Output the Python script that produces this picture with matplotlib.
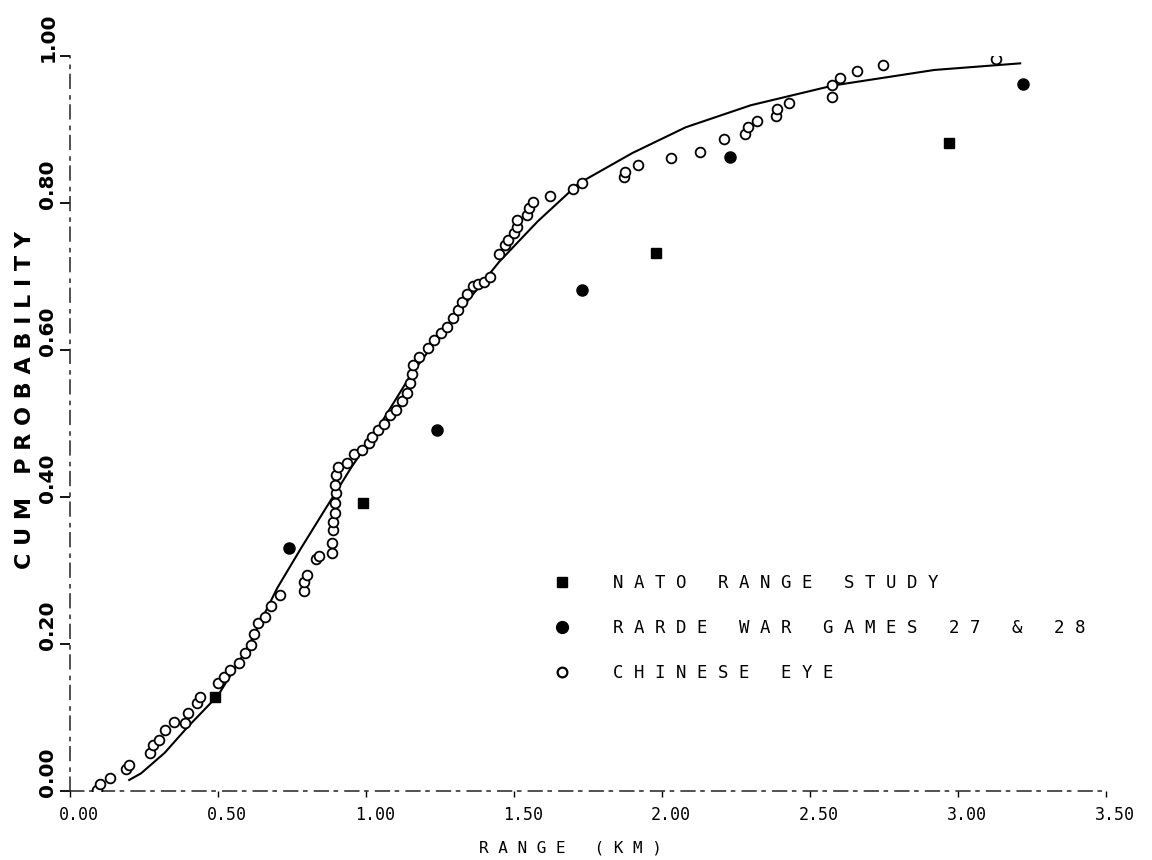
import matplotlib
matplotlib.use('Agg')
import matplotlib.pyplot as plt
from matplotlib.lines import Line2D

# NATO range study
nato_x = [0.49, 0.99, 1.98, 2.97]
nato_y = [0.128, 0.392, 0.732, 0.881]

# RARDE war games 27 & 28
rarde_x = [0.74, 1.24, 1.73, 2.23, 3.22]
rarde_y = [0.331, 0.491, 0.682, 0.863, 0.962]

# Chinese eye observations
eye_x = [0.09, 0.10, 0.135, 0.19, 0.20, 0.27, 0.28, 0.30, 0.32, 0.35,
         0.39, 0.40, 0.43, 0.44, 0.50, 0.52, 0.54, 0.57, 0.59, 0.61,
         0.62, 0.635, 0.66, 0.68, 0.71, 0.79, 0.79, 0.80, 0.83, 0.84,
         0.885, 0.885, 0.89, 0.89, 0.895, 0.895, 0.90, 0.895, 0.90, 0.905,
         0.935, 0.96, 0.985, 1.01, 1.02, 1.04, 1.06, 1.08, 1.10, 1.12,
         1.14, 1.15, 1.155, 1.16, 1.18, 1.21, 1.23, 1.255, 1.275, 1.295,
         1.31, 1.325, 1.34, 1.36, 1.38, 1.40, 1.42, 1.45, 1.47, 1.48,
         1.50, 1.51, 1.51, 1.545, 1.55, 1.565, 1.62, 1.70, 1.73, 1.87,
         1.875, 1.92, 2.03, 2.13, 2.21, 2.28, 2.29, 2.32, 2.385, 2.39,
         2.43, 2.575, 2.575, 2.60, 2.66, 2.745, 3.13]
eye_y = [0.001, 0.010, 0.018, 0.030, 0.036, 0.052, 0.062, 0.070, 0.083, 0.094,
         0.093, 0.106, 0.120, 0.128, 0.147, 0.155, 0.165, 0.174, 0.188, 0.199,
         0.214, 0.228, 0.237, 0.252, 0.266, 0.272, 0.284, 0.294, 0.315, 0.320,
         0.324, 0.337, 0.355, 0.366, 0.378, 0.392, 0.405, 0.416, 0.430, 0.441,
         0.446, 0.458, 0.464, 0.473, 0.482, 0.491, 0.500, 0.511, 0.518, 0.531,
         0.541, 0.555, 0.568, 0.580, 0.590, 0.603, 0.613, 0.623, 0.631, 0.643,
         0.654, 0.665, 0.676, 0.687, 0.690, 0.692, 0.700, 0.730, 0.743, 0.750,
         0.759, 0.767, 0.777, 0.784, 0.793, 0.801, 0.810, 0.819, 0.827, 0.835,
         0.842, 0.852, 0.861, 0.869, 0.887, 0.894, 0.903, 0.912, 0.918, 0.928,
         0.936, 0.944, 0.960, 0.970, 0.980, 0.988, 0.996]

# fitted cumulative curve
fit_x = [0.20, 0.24, 0.32, 0.395, 0.50, 0.60, 0.70, 0.78, 0.86, 0.95,
         1.05, 1.15, 1.25, 1.35, 1.45, 1.58, 1.72, 1.90, 2.08, 2.30,
         2.58, 2.92, 3.21]
fit_y = [0.015, 0.024, 0.052, 0.086, 0.130, 0.195, 0.276, 0.330, 0.382, 0.440,
         0.500, 0.565, 0.620, 0.670, 0.720, 0.775, 0.827, 0.868, 0.903, 0.933,
         0.960, 0.981, 0.990]

xticks = [0.0, 0.5, 1.0, 1.5, 2.0, 2.5, 3.0, 3.5]
xtick_labels = ['0.00', '0.50', '1.00', '1.50', '2.00', '2.50', '3.00', '3.50']
yticks = [0.0, 0.2, 0.4, 0.6, 0.8, 1.0]
ytick_labels = ['0.00', '0.20', '0.40', '0.60', '0.80', '1.00']

legend_labels = ['NATO RANGE STUDY', 'RARDE WAR GAMES 27 & 28', 'CHINESE EYE']


def spaced(s):
    # plotter style lettering: one blank between letters
    return ' '.join(s)


W, H = 1152, 860
fig = plt.figure(figsize=(W / 100, H / 100), dpi=100)
ax = fig.add_axes([70 / W, 69 / H, 1036 / W, 735 / H])
ax.set_xlim(0, 3.5)
ax.set_ylim(0, 1.0)

mono = 'DejaVu Sans Mono'

ax.plot(fit_x, fit_y, color='black', lw=1.5, zorder=2)
ax.plot(eye_x, eye_y, ls='none', marker='o', ms=7, mfc='white', mec='black',
        mew=1.3, zorder=3)
ax.plot(rarde_x, rarde_y, ls='none', marker='o', ms=8, color='black', zorder=4)
ax.plot(nato_x, nato_y, ls='none', marker='s', ms=7, color='black', zorder=4)

# axes: broken pen lines on the left and bottom only
for side in ['top', 'right']:
    ax.spines[side].set_visible(False)
for side in ['left', 'bottom']:
    ax.spines[side].set_linestyle((0, (9, 4, 2, 5)))
    ax.spines[side].set_linewidth(1.1)
    ax.spines[side].set_color('#222222')

ax.set_xticks(xticks)
ax.set_yticks(yticks)
ax.set_xticklabels([])
ax.set_yticklabels([])
ax.tick_params(axis='x', direction='out', length=4, width=1)
ax.tick_params(axis='y', direction='out', length=7, width=1.3)

for v, lab in zip(xticks, xtick_labels):
    ax.annotate(lab, xy=(v, 0), xycoords=('data', 'axes fraction'),
                xytext=(9, -24), textcoords='offset pixels',
                ha='center', va='center', fontsize=12, family=mono)

for v, lab in zip(yticks, ytick_labels):
    ax.annotate(lab, xy=(0, v), xycoords=('axes fraction', 'data'),
                xytext=(-22, -6), textcoords='offset pixels',
                ha='center', va='bottom', rotation=90,
                fontsize=14.5, fontweight='bold', family='DejaVu Sans')

ax.annotate(spaced('CUM PROBABILITY'), xy=(0, 0.532),
            xycoords=('axes fraction', 'data'), xytext=(-45, 0),
            textcoords='offset pixels', ha='center', va='center',
            rotation=90, fontsize=16, fontweight='bold', family='DejaVu Sans')
ax.annotate(spaced('RANGE (KM)'), xy=(1.69, 0), xycoords=('data', 'axes fraction'),
            xytext=(0, -57), textcoords='offset pixels', ha='center',
            va='center', fontsize=11.5, family=mono)

handles = [
    Line2D([], [], ls='none', marker='s', ms=7.5, color='black'),
    Line2D([], [], ls='none', marker='o', ms=8.5, color='black'),
    Line2D([], [], ls='none', marker='o', ms=7, mfc='white', mec='black', mew=1.6),
]
ax.legend(handles, [spaced(t) for t in legend_labels],
          loc='center left', bbox_to_anchor=(0.4665, 0.2218),
          frameon=False, prop={'family': mono, 'size': 12.5},
          handlelength=1.0, handletextpad=2.45, labelspacing=1.55,
          borderpad=0, borderaxespad=0)

fig.savefig('out.png', dpi=100, facecolor='white')
